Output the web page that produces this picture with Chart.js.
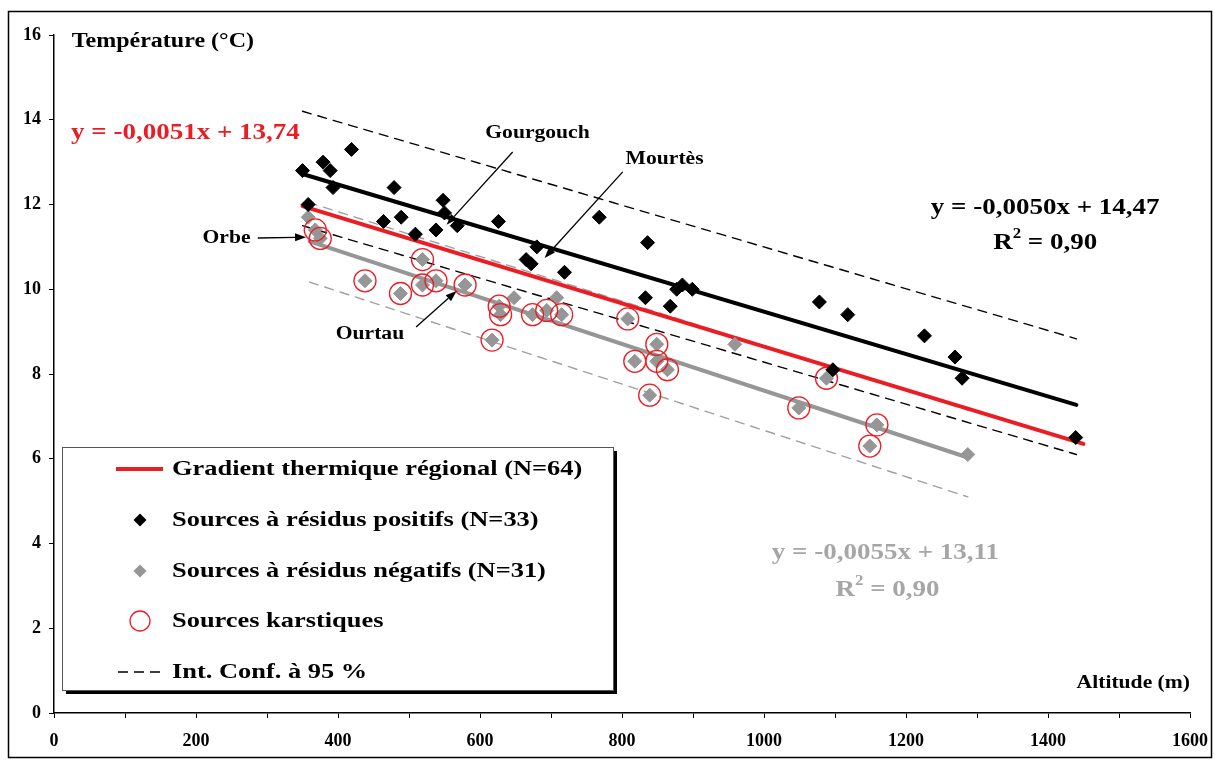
<!DOCTYPE html>
<html><head><meta charset="utf-8">
<script src="https://cdn.jsdelivr.net/npm/chart.js@4.4.0/dist/chart.umd.min.js"></script>
<style>html,body{margin:0;padding:0;background:#fff}#wrap{width:1215px;height:760px;position:relative}</style>
</head><body><div id="wrap"><canvas id="c" width="1215" height="760"></canvas></div>
<script>
// ---- data ----
const posAlt  = [350,358,379,389,393,419,464,479,489,509,538,548,550,568,626,665,672,680,719,768,836,833,868,877,885,899,1078,1118,1226,1269,1279,1097,1439];
const posTemp = [12.8,12.0,13.0,12.8,12.4,13.3,11.6,12.4,11.7,11.3,11.4,12.1,11.8,11.5,11.6,10.7,10.6,11.0,10.4,11.7,11.1,9.8,9.6,10.0,10.1,10.0,9.7,9.4,8.9,8.4,7.9,8.1,6.5];
const negAlt  = [358,368,375,438,519,488,519,538,579,648,627,629,617,674,694,715,708,808,849,959,818,849,864,839,1088,1049,1159,1149,1287];
const negTemp = [11.7,11.4,11.2,10.2,10.7,9.9,10.1,10.2,10.1,9.8,9.6,9.4,8.8,9.4,9.5,9.4,9.8,9.3,8.7,8.7,8.3,8.3,8.1,7.5,7.9,7.2,6.8,6.3,6.1];
const karstAlt  = [368,375,438,519,488,519,538,579,627,629,617,674,694,715,808,849,818,849,864,839,1088,1049,1159,1149];
const karstTemp = [11.4,11.2,10.2,10.7,9.9,10.1,10.2,10.1,9.6,9.4,8.8,9.4,9.5,9.4,9.3,8.7,8.3,8.3,8.1,7.5,7.9,7.2,6.8,6.3];
const regAlt = [350,1450],    regTemp = [11.96,6.35];
const posFitAlt = [350,1440], posFitTemp = [12.72,7.27];
const negFitAlt = [360,1287], negFitTemp = [11.13,6.03];
const ciPosUpAlt = [350,1440], ciPosUpTemp = [14.2,8.83];
const ciPosLoAlt = [350,1440], ciPosLoTemp = [11.5,6.1];
const ciNegUpAlt = [358,1287], ciNegUpTemp = [12.05,7.15];
const ciNegLoAlt = [360,1287], ciNegLoTemp = [10.17,5.1];
const xMin = 0, xMax = 1600, xStep = 100, xLabelStep = 200;
const yMin = 0, yMax = 16, yStep = 2;
const legendLabels = ["Gradient thermique régional (N=64)","Sources à résidus positifs (N=33)","Sources à résidus négatifs (N=31)","Sources karstiques","Int. Conf. à 95 %"];
const eqRegional = "y = -0,0051x + 13,74";
const eqPos = "y = -0,0050x + 14,47";
const eqNeg = "y = -0,0055x + 13,11";
const r2Pos = "0,90", r2Neg = "0,90";
// annotations: [label, labelAlt, labelTemp, fromAlt, fromTemp, toAlt, toTemp]
const arrows = [
  ["Gourgouch", 681, 13.69, 646, 13.24, 553, 11.52],
  ["Mourtès",   860, 13.06, 801, 12.77, 691, 10.74],
  ["Orbe",      243, 11.21, 287, 11.21, 355, 11.23],
  ["Ourtau",    445, 8.94,  510, 9.11,  567, 9.96]
];

const RED = '#ec1c24', GRAY = '#969696', GRAYTXT = '#a6a6a6';
const FONT = '"Liberation Serif","Times New Roman",serif';
const SX = 1.2;

function pts(xs, ys){ return xs.map((x,i)=>({x:x, y:ys[i]})); }

function txt(ctx, s, x, y, size, color, align){
  ctx.save();
  ctx.font = 'bold ' + size + 'px ' + FONT;
  ctx.fillStyle = color; ctx.textBaseline = 'middle'; ctx.textAlign = 'left';
  const w = ctx.measureText(s).width * SX;
  let x0 = align === 'center' ? x - w/2 : (align === 'right' ? x - w : x);
  ctx.translate(x0, y); ctx.scale(SX, 1); ctx.fillText(s, 0, 0);
  ctx.restore();
  return w;
}
function r2(ctx, val, cx, y, size, color){
  ctx.save();
  ctx.font = 'bold ' + size + 'px ' + FONT;
  const wR = ctx.measureText('R').width*SX;
  const rest = ' = ' + val;
  const wRest = ctx.measureText(rest).width*SX;
  ctx.font = 'bold ' + Math.round(size*0.62) + 'px ' + FONT;
  const w2 = ctx.measureText('2').width*SX;
  ctx.restore();
  const total = wR + w2 + wRest;
  let x = cx - total/2;
  txt(ctx, 'R', x, y, size, color, 'left'); x += wR;
  txt(ctx, '2', x, y - size*0.38, Math.round(size*0.62), color, 'left'); x += w2;
  txt(ctx, rest, x, y, size, color, 'left');
}
function arrow(ctx, x1, y1, x2, y2){
  ctx.save();
  ctx.strokeStyle = '#000'; ctx.fillStyle = '#000'; ctx.lineWidth = 1.3;
  const a = Math.atan2(y2-y1, x2-x1), L = 11, W = 4;
  const bx = x2 - L*Math.cos(a), by = y2 - L*Math.sin(a);
  ctx.beginPath(); ctx.moveTo(x1,y1); ctx.lineTo(bx,by); ctx.stroke();
  ctx.beginPath(); ctx.moveTo(x2,y2);
  ctx.lineTo(bx + W*Math.sin(a), by - W*Math.cos(a));
  ctx.lineTo(bx - W*Math.sin(a), by + W*Math.cos(a));
  ctx.closePath(); ctx.fill();
  ctx.restore();
}
function diamond(ctx, x, y, r, color){
  ctx.fillStyle = color;
  ctx.beginPath(); ctx.moveTo(x, y-r); ctx.lineTo(x+r, y); ctx.lineTo(x, y+r); ctx.lineTo(x-r, y); ctx.closePath(); ctx.fill();
}

const deco = {
  id: 'deco',
  afterDatasetsDraw(chart){
    const ctx = chart.ctx, xs = chart.scales.x, ys = chart.scales.y;
    const px = v => xs.getPixelForValue(v), py = v => ys.getPixelForValue(v);
    // axis titles
    txt(ctx, 'Température (°C)', px(25), py(15.83), 20, '#000', 'left');
    txt(ctx, 'Altitude (m)', px(1600), py(0.71), 18, '#000', 'right');
    // equations
    txt(ctx, eqRegional, px(24), py(13.69), 22.5, RED, 'left');
    txt(ctx, eqPos, px(1396), py(11.92), 22.5, '#000', 'center');
    r2(ctx, r2Pos, px(1396), py(11.09), 22.5, '#000');
    txt(ctx, eqNeg, px(1171), py(3.78), 22.5, GRAYTXT, 'center');
    r2(ctx, r2Neg, px(1174), py(2.90), 22.5, GRAYTXT);
    // arrows + labels
    arrows.forEach(a => {
      txt(ctx, a[0], px(a[1]), py(a[2]), 18, '#000', 'center');
      arrow(ctx, px(a[3]), py(a[4]), px(a[5]), py(a[6]));
    });
    // legend
    const L = 62, T = 447, R = 613, B = 690;
    ctx.save();
    ctx.fillStyle = '#000'; ctx.fillRect(L+4, T+4, R-L, B-T);
    ctx.fillStyle = '#fff'; ctx.fillRect(L, T, R-L, B-T);
    ctx.strokeStyle = '#555'; ctx.lineWidth = 1; ctx.strokeRect(L+0.5, T+0.5, R-L, B-T);
    const rows = [469, 520, 571, 621, 672];
    const sx = 140, tx = 172;
    ctx.strokeStyle = RED; ctx.lineWidth = 4;
    ctx.beginPath(); ctx.moveTo(116, rows[0]); ctx.lineTo(163, rows[0]); ctx.stroke();
    diamond(ctx, sx, rows[1], 6.5, '#000');
    diamond(ctx, sx, rows[2], 6.5, GRAY);
    ctx.strokeStyle = RED; ctx.lineWidth = 1.3;
    ctx.beginPath(); ctx.arc(sx, rows[3], 10, 0, Math.PI*2); ctx.stroke();
    ctx.strokeStyle = '#000'; ctx.lineWidth = 1.5; ctx.setLineDash([10,6]);
    ctx.beginPath(); ctx.moveTo(118, rows[4]); ctx.lineTo(165, rows[4]); ctx.stroke();
    ctx.setLineDash([]);
    ctx.restore();
    legendLabels.forEach((s,i) => txt(ctx, s, tx, rows[i], 22, '#000', 'left'));
  },
  afterDraw(chart){
    const ctx = chart.ctx;
    ctx.save(); ctx.strokeStyle = '#000'; ctx.lineWidth = 1.5;
    ctx.strokeRect(8.5, 11.5, 1203, 746); ctx.restore();
  }
};

const lineDs = (label, xs, ys, color, width, dash) => ({
  label, data: pts(xs, ys), showLine: true, borderColor: color, backgroundColor: color,
  borderWidth: width, borderDash: dash || [], pointRadius: 0, pointHoverRadius: 0,
  borderCapStyle: 'round', fill: false
});

new Chart(document.getElementById('c'), {
  type: 'scatter',
  data: { datasets: [
    { label: legendLabels[1], data: pts(posAlt, posTemp), pointStyle: 'rectRot', pointRadius: 7, borderWidth: 1, backgroundColor: '#000', borderColor: '#000' },
    { label: legendLabels[3], data: pts(karstAlt, karstTemp), pointStyle: 'circle', pointRadius: 11, borderWidth: 1.3, backgroundColor: 'rgba(0,0,0,0)', borderColor: RED },
    { label: legendLabels[2], data: pts(negAlt, negTemp), pointStyle: 'rectRot', pointRadius: 7, borderWidth: 1, backgroundColor: GRAY, borderColor: GRAY },
    lineDs(legendLabels[0], regAlt, regTemp, RED, 4),
    lineDs('Régression résidus positifs', posFitAlt, posFitTemp, '#000', 4),
    lineDs('Régression résidus négatifs', negFitAlt, negFitTemp, GRAY, 4),
    lineDs(legendLabels[4], ciPosUpAlt, ciPosUpTemp, '#000', 1.4, [9,7]),
    lineDs('IC bas positifs', ciPosLoAlt, ciPosLoTemp, '#000', 1.4, [9,7]),
    lineDs('IC haut négatifs', ciNegUpAlt, ciNegUpTemp, '#a0a0a0', 1.4, [9,7]),
    lineDs('IC bas négatifs', ciNegLoAlt, ciNegLoTemp, '#a0a0a0', 1.4, [9,7])
  ]},
  options: {
    responsive: false, animation: false, devicePixelRatio: 1,
    layout: { padding: { left: 8, top: 35, right: 25, bottom: 0 } },
    plugins: { legend: { display: false }, tooltip: { enabled: false } },
    scales: {
      x: { type: 'linear', min: xMin, max: xMax,
        afterFit: s => { s.height = 47; s.paddingRight = 0; s.paddingLeft = 0; },
        ticks: { stepSize: xStep, autoSkip: false, maxRotation: 0, padding: 13, color: '#000',
          font: { family: FONT, size: 18, weight: 'bold' },
          callback: v => (v % xLabelStep === 0 ? String(v) : '') },
        grid: { drawOnChartArea: false, drawTicks: true, tickLength: 5, color: '#000', lineWidth: 1 },
        border: { display: true, color: '#000', width: 1.5 } },
      y: { type: 'linear', min: yMin, max: yMax,
        afterFit: s => { s.width = 46; s.paddingTop = 0; s.paddingBottom = 0; },
        ticks: { stepSize: yStep, padding: 8, color: '#000',
          font: { family: FONT, size: 18, weight: 'bold' } },
        grid: { drawOnChartArea: false, drawTicks: true, tickLength: 5, color: '#000', lineWidth: 1 },
        border: { display: true, color: '#000', width: 1.5 } }
    }
  },
  plugins: [deco]
});
</script></body></html>
